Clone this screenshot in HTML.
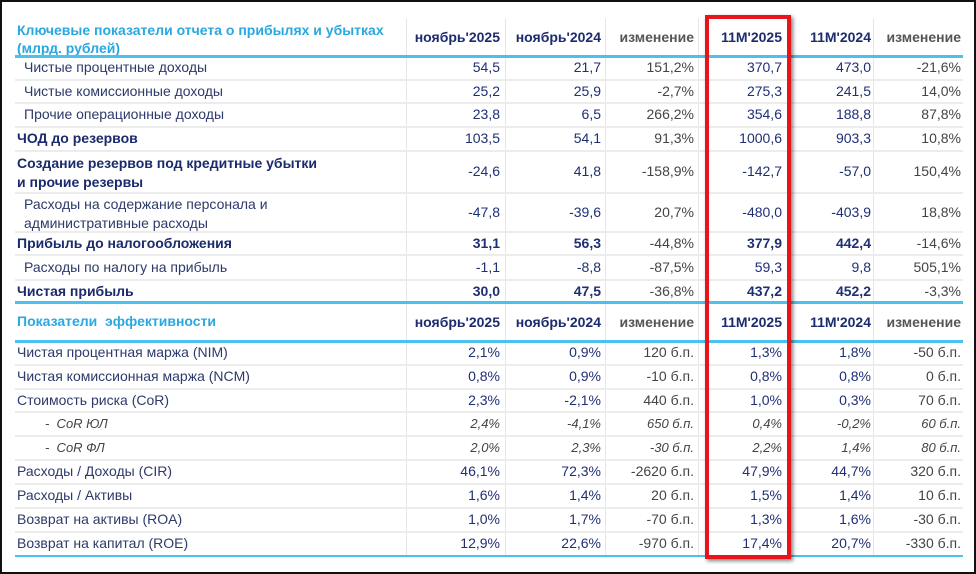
<!DOCTYPE html>
<html><head><meta charset="utf-8"><style>
body{margin:0;width:976px;height:574px;background:#fff;overflow:hidden;font-family:"Liberation Sans","Noto Sans CJK SC",sans-serif;}
#frame{position:absolute;left:0;top:0;width:972px;height:570px;border:2px solid #111;}
.t{position:absolute;font-size:14px;white-space:nowrap;line-height:17px;}
.hl{position:absolute;height:3px;background:#4cc0ee;}
.gl{position:absolute;height:2px;background:#ececec;}
.vl{position:absolute;width:1px;background:#e6e6e6;}
#redbox{position:absolute;left:705px;top:15px;width:78px;height:536px;border:4px solid #e8141a;box-shadow:2px 2px 4px rgba(0,0,0,.5);}
</style></head><body>
<div id="frame"></div>
<div id="tbl"></div>
<div id="redbox"></div>
<script>
const colRight=[500,601,694,782,871,961];
const headers=["ноябрь'2025","ноябрь'2024","изменение","11M'2025","11M'2024","изменение"];
const rows1=[
["Чистые процентные доходы","54,5","21,7","151,2%","370,7","473,0","-21,6%","n",56,80],
["Чистые комиссионные доходы","25,2","25,9","-2,7%","275,3","241,5","14,0%","n",80,103],
["Прочие операционные доходы","23,8","6,5","266,2%","354,6","188,8","87,8%","n",103,127],
["ЧОД до резервов","103,5","54,1","91,3%","1000,6","903,3","10,8%","bi",127,151],
["Создание резервов под кредитные убытки<br>и прочие резервы","-24,6","41,8","-158,9%","-142,7","-57,0","150,4%","bi",151,193],
["Расходы на содержание персонала и<br>административные расходы","-47,8","-39,6","20,7%","-480,0","-403,9","18,8%","n",193,232],
["Прибыль до налогообложения","31,1","56,3","-44,8%","377,9","442,4","-14,6%","B",232,255],
["Расходы по налогу на прибыль","-1,1","-8,8","-87,5%","59,3","9,8","505,1%","n",255,280],
["Чистая прибыль","30,0","47,5","-36,8%","437,2","452,2","-3,3%","B",280,303]];
const rows2=[
["Чистая процентная маржа (NIM)","2,1%","0,9%","120 б.п.","1,3%","1,8%","-50 б.п.","m",341,365],
["Чистая комиссионная маржа (NCM)","0,8%","0,9%","-10 б.п.","0,8%","0,8%","0 б.п.","m",365,389],
["Стоимость риска (CoR)","2,3%","-2,1%","440 б.п.","1,0%","0,3%","70 б.п.","m",389,412],
["-&nbsp;&nbsp;CoR ЮЛ","2,4%","-4,1%","650 б.п.","0,4%","-0,2%","60 б.п.","i",412,436],
["-&nbsp;&nbsp;CoR ФЛ","2,0%","2,3%","-30 б.п.","2,2%","1,4%","80 б.п.","i",436,460],
["Расходы / Доходы (CIR)","46,1%","72,3%","-2620 б.п.","47,9%","44,7%","320 б.п.","m",460,484],
["Расходы / Активы","1,6%","1,4%","20 б.п.","1,5%","1,4%","10 б.п.","m",484,508],
["Возврат на активы (ROA)","1,0%","1,7%","-70 б.п.","1,3%","1,6%","-30 б.п.","m",508,532],
["Возврат на капитал (ROE)","12,9%","22,6%","-970 б.п.","17,4%","20,7%","-330 б.п.","m",532,556]];
const tbl=document.getElementById('tbl');
function add(cls,css,html){const d=document.createElement('div');d.className=cls;d.style.cssText=css;if(html!==undefined)d.innerHTML=html;tbl.appendChild(d);return d;}
[406,505,605,698,873].forEach(x=>{const v=add('vl',`left:${x}px;top:18px;height:538px`);

});
function header(title,top,bot){
  const two=title.includes('<br>');
  const h=add('t',`left:17px;top:${two?21:(top+bot)/2-9}px;color:#29a8e0;font-weight:bold;line-height:${two?18:17}px`,title);
  
  
  headers.forEach((t,i)=>{const c=add('t',`right:${976-colRight[i]}px;top:${(top+bot)/2-8}px;font-weight:bold;color:${i%3==2?'#555':'#1c2b6e'}`,t);
  
  });
  const l=add('hl',`left:15px;width:948px;top:${bot-1}px`);
  
  
}
function body(rows){
  rows.forEach((r,ri)=>{
    const st=r[7],top=r[8],bot=r[9],mid=(top+bot)/2-9;
    const two=r[0].includes('<br>');
    let left=st=='n'?24:(st=='i'?45:17);
    let fw=(st=='bi'||st=='B')?'bold':'normal';
    let col=st=='i'?'#444':(fw=='bold'?'#1a2a6c':'#2d3a6a');
    const l=add('t',`left:${left}px;top:${two?mid-9:mid}px;font-weight:${fw};color:${col};${st=='i'?'font-style:italic;font-size:13px;':''}line-height:${two?19:17}px`,r[0]);
    
    
    for(let i=0;i<6;i++){
      const vb=(st=='B'&&i%3!=2);
      const c=add('t',`right:${976-colRight[i]}px;top:${mid}px;font-weight:${vb?'bold':'normal'};color:${i%3==2?'#444':(st=='i'?'#444':'#1f2f75')};${st=='i'?'font-style:italic;font-size:13px;':''}`,r[1+i]);
      
      
    }
    if(ri<rows.length-1){const g=add('gl',`left:15px;width:948px;top:${bot-1}px`);
    
    }
  });
}
header("Ключевые показатели отчета о прибылях и убытках<br>(млрд. рублей)",18,56);
body(rows1);
const l1=add('hl','left:15px;width:948px;top:301px');


header("Показатели&nbsp;&nbsp;эффективности",303,341);
body(rows2);
const l2=add('hl','left:15px;width:948px;top:555px;height:2px');


</script>
</body></html>
